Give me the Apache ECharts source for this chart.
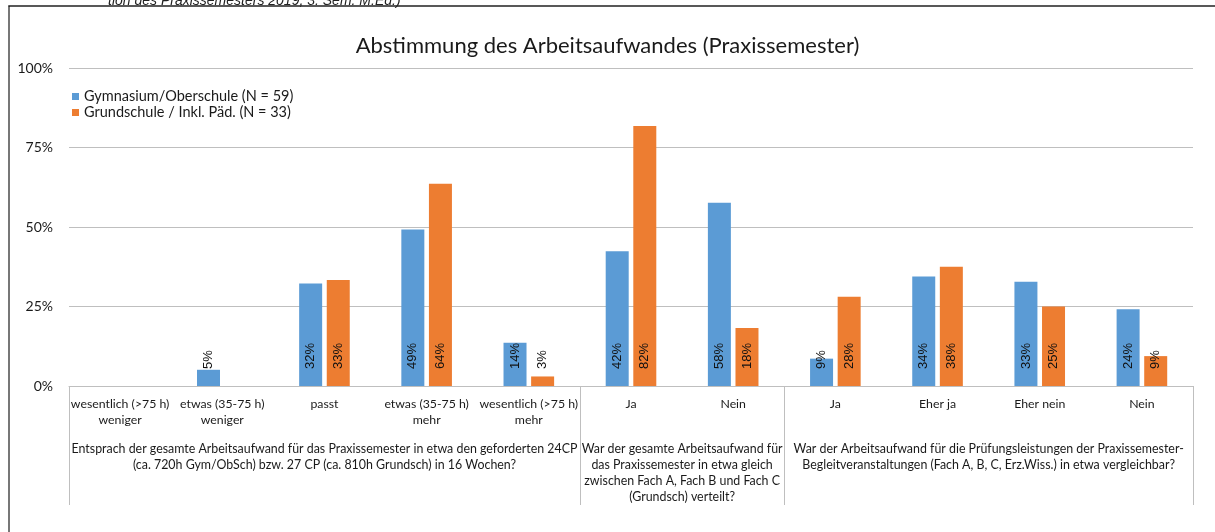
<!DOCTYPE html>
<html>
<head>
<meta charset="utf-8">
<script src="https://cdn.jsdelivr.net/npm/echarts@6/dist/echarts.min.js"></script>
<style>
  html, body { margin: 0; padding: 0; background: #fff; }
  #chart { width: 1215px; height: 532px; }
</style>
</head>
<body>
<div id="chart"></div>
<script>
// Antworten (erste Ebene der Kategorienachse)
const categories = [
  'wesentlich (>75 h)\nweniger', 'etwas (35-75 h)\nweniger', 'passt',
  'etwas (35-75 h)\nmehr', 'wesentlich (>75 h)\nmehr',
  'Ja', 'Nein',
  'Ja', 'Eher ja', 'Eher nein', 'Nein'
];

// Fragen (zweite Ebene), jeweils über der Mitte ihrer Gruppe
const groups = [
  'Entsprach der gesamte Arbeitsaufwand für das Praxissemester in etwa den geforderten 24CP\n(ca. 720h Gym/ObSch) bzw. 27 CP (ca. 810h Grundsch) in 16 Wochen?',
  'War der gesamte Arbeitsaufwand für\ndas Praxissemester in etwa gleich\nzwischen Fach A, Fach B und Fach C\n(Grundsch) verteilt?',
  'War der Arbeitsaufwand für die Prüfungsleistungen der Praxissemester-\nBegleitveranstaltungen (Fach A, B, C, Erz.Wiss.) in etwa vergleichbar?'
];
const groupSizes = [5, 2, 4];

const seriesNames = ['Gymnasium/Oberschule (N = 59)', 'Grundschule / Inkl. Päd. (N = 33)'];

// Anteile in Prozent
const gymValues = [0, 5.1, 32.2, 49.2, 13.6, 42.4, 57.6, 8.6, 34.4, 32.8, 24.1];
const grundValues = [0, 0, 33.3, 63.6, 3.0, 81.8, 18.2, 28.1, 37.5, 25.0, 9.4];

const yTicks = [0, 25, 50, 75, 100];

// Hilfsachsen in Kategorie-Einheiten: Trennstriche an den Gruppengrenzen, Frage in der Mitte
const groupEdges = [0];
const groupCenters = [];
groupSizes.forEach(function (n) {
  const start = groupEdges[groupEdges.length - 1];
  groupCenters.push(start + n / 2);
  groupEdges.push(start + n);
});

const chart = echarts.init(document.getElementById('chart'));

const uiFont = 'Lato';
const barLabel = {
  show: true,
  position: 'insideBottom',
  distance: 17,
  rotate: 90,
  align: 'left',
  verticalAlign: 'middle',
  color: '#111',
  fontFamily: 'Liberation Sans',
  fontSize: 13,
  formatter: function (p) { return p.value > 0 ? Math.round(p.value) + '%' : ''; }
};

// eigene Achse je Auswahl, damit sich die Fragen nicht gegenseitig ausblenden
function groupAxis(which, withTicks) {
  return {
    type: 'value',
    position: 'bottom',
    min: 0,
    max: categories.length,
    axisLine: { show: false },
    splitLine: { show: false },
    axisTick: {
      show: withTicks,
      length: 119,
      customValues: groupEdges,
      lineStyle: { color: '#BFBFBF' }
    },
    axisLabel: {
      customValues: which.map(function (g) { return groupCenters[g]; }),
      showMinLabel: true,
      showMaxLabel: true,
      hideOverlap: false,
      margin: 55,
      fontFamily: uiFont,
      fontSize: 12.4,
      lineHeight: 16,
      color: '#1a1a1a',
      verticalAlign: 'top',
      formatter: function (v) {
        const g = groupCenters.indexOf(v);
        return g >= 0 ? groups[g] : '';
      }
    }
  };
}

chart.setOption({
  animation: false,
  backgroundColor: '#fff',
  title: [{
    text: 'Abstimmung des Arbeitsaufwandes (Praxissemester)',
    left: 'center',
    top: 30,
    textStyle: { fontFamily: uiFont, fontSize: 22, fontWeight: 'normal', color: '#1a1a1a' }
  }, {
    text: 'tion des Praxissemesters 2019, 3. Sem. M.Ed.)',
    left: 103,
    top: -11,
    textStyle: { fontFamily: 'Liberation Sans', fontSize: 14, fontStyle: 'italic', fontWeight: 'normal', color: '#222' }
  }],
  legend: {
    orient: 'vertical',
    left: 72,
    top: 89,
    padding: 0,
    itemWidth: 7,
    itemHeight: 7,
    itemGap: 1,
    icon: 'rect',
    data: seriesNames,
    textStyle: { fontFamily: uiFont, fontSize: 14.5, color: '#1a1a1a', lineHeight: 15 }
  },
  graphic: [{
    type: 'rect',
    shape: { x: 9, y: 6, width: 1210, height: 600 },
    style: { fill: 'none', stroke: '#222', lineWidth: 1.5 },
    silent: true
  }, {
    type: 'line',
    shape: { x1: 9, y1: 7, x2: 9, y2: 532 },
    style: { stroke: '#777', lineWidth: 2 },
    silent: true
  }],
  grid: { left: 69, right: 22, top: 68, bottom: 146 },
  xAxis: [{
    type: 'category',
    data: categories,
    axisLine: { lineStyle: { color: '#BFBFBF', width: 1 } },
    axisTick: { show: false },
    axisLabel: { interval: 0, margin: 10, fontFamily: uiFont, fontSize: 12.3, lineHeight: 16, color: '#1a1a1a' }
  },
    groupAxis([0, 2], true),
    groupAxis([1], false)
  ],
  yAxis: {
    type: 'value',
    min: 0,
    max: 100,
    interval: 25,
    axisLine: { show: false },
    axisTick: { show: false },
    splitLine: { lineStyle: { color: '#BFBFBF', width: 1 } },
    axisLabel: {
      margin: 16,
      fontFamily: uiFont,
      fontSize: 14,
      color: '#1a1a1a',
      formatter: function (v) { return yTicks.indexOf(v) >= 0 ? v + '%' : ''; }
    }
  },
  series: [{
    name: seriesNames[0],
    type: 'bar',
    data: gymValues,
    barWidth: 23,
    barGap: '20%',
    itemStyle: { color: '#5B9BD5' },
    label: barLabel
  }, {
    name: seriesNames[1],
    type: 'bar',
    data: grundValues,
    barWidth: 23,
    barGap: '20%',
    itemStyle: { color: '#ED7D31' },
    label: barLabel
  }]
});
</script>
</body>
</html>
